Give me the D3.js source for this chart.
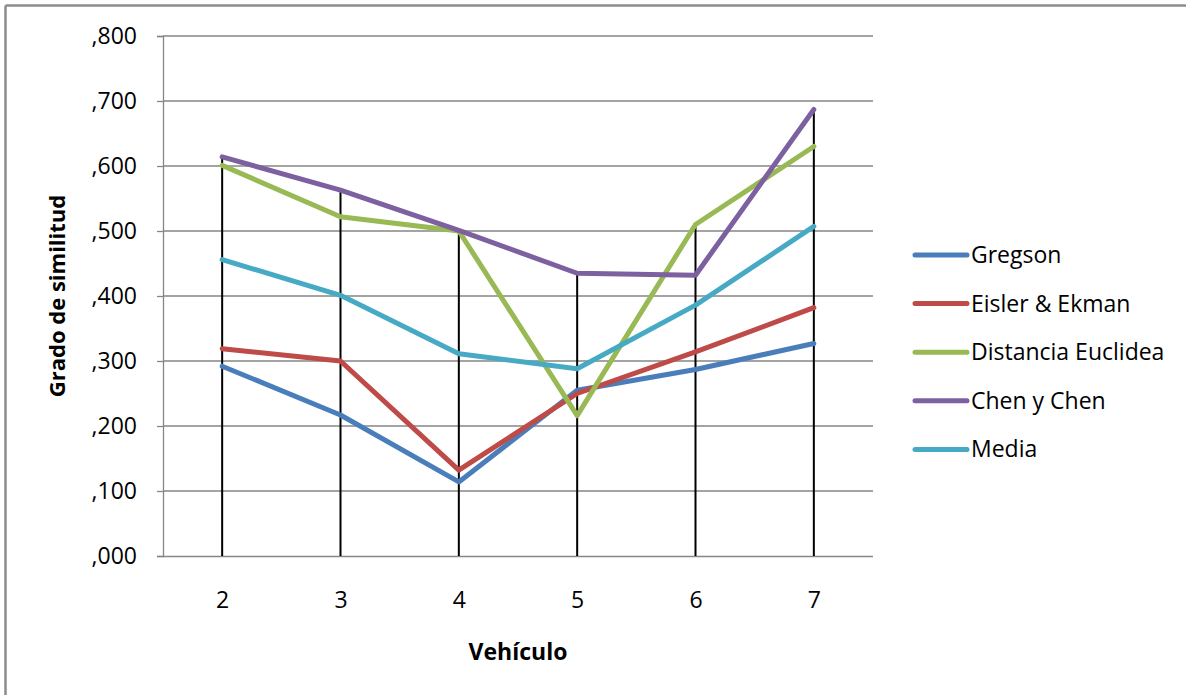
<!DOCTYPE html>
<html>
<head>
<meta charset="utf-8">
<script src="https://cdn.jsdelivr.net/npm/d3@7"></script>
<style>
  html, body { margin: 0; padding: 0; background: #fff; }
  svg { display: block; }
  text { font-family: "Open Sans", sans-serif; fill: #000; }
</style>
</head>
<body>
<svg id="chart" width="1186" height="695"></svg>
<script>
// Vehicle categories on the x axis
const vehicles = ["2", "3", "4", "5", "6", "7"];

// Similarity degree per method
const gregson   = [0.292, 0.217, 0.114, 0.255, 0.287, 0.327];
const eisler    = [0.319, 0.300, 0.132, 0.250, 0.314, 0.382];
const euclidea  = [0.601, 0.522, 0.500, 0.216, 0.510, 0.630];
const chen      = [0.614, 0.563, 0.501, 0.435, 0.432, 0.687];
const media     = [0.456, 0.401, 0.311, 0.288, 0.386, 0.507];

const seriesNames = ["Gregson", "Eisler & Ekman", "Distancia Euclidea", "Chen y Chen", "Media"];
const seriesColors = ["#4a7ebb", "#be4b48", "#98b954", "#7d60a0", "#46aac5"];
const yTicks = [0, 0.1, 0.2, 0.3, 0.4, 0.5, 0.6, 0.7, 0.8];

const series = [gregson, eisler, euclidea, chen, media].map((vals, i) => ({
  name: seriesNames[i], color: seriesColors[i], values: vals
}));

const svg = d3.select("#chart");
const FONT = "'Open Sans', sans-serif";
const FS = "23px";

// Outer chart frame (top and left edges)
svg.append("line").attr("x1", 5.5).attr("x2", 1186).attr("y1", 5.5).attr("y2", 5.5)
  .attr("stroke", "#8c8c8c").attr("stroke-width", 2.5);
svg.append("line").attr("x1", 5.5).attr("x2", 5.5).attr("y1", 5.5).attr("y2", 695)
  .attr("stroke", "#8c8c8c").attr("stroke-width", 2.5);

const plot = { left: 163, right: 873, top: 36, bottom: 556 };

const x = d3.scalePoint().domain(vehicles).range([plot.left, plot.right]).padding(0.5);
const y = d3.scaleLinear().domain([0, 0.8]).range([plot.bottom, plot.top]);

const fmt = v => "," + d3.format(".3f")(v).split(".")[1];

// Horizontal gridlines
svg.append("g").selectAll("line").data(yTicks.slice(1)).join("line")
  .attr("x1", plot.left).attr("x2", plot.right)
  .attr("y1", d => y(d)).attr("y2", d => y(d))
  .attr("stroke", "#868686").attr("stroke-width", 1.3);

// Y axis
const yAxis = svg.append("g").attr("transform", `translate(${plot.left},0)`)
  .call(d3.axisLeft(y).tickValues(yTicks).tickFormat(fmt).tickSize(6).tickPadding(20));
yAxis.select(".domain").attr("stroke", "#868686").attr("stroke-width", 1.3);
yAxis.selectAll(".tick line").attr("stroke", "#868686").attr("stroke-width", 1.3);
yAxis.selectAll(".tick text").style("font-size", FS).style("font-family", FONT).attr("fill", "#000");

// X axis
const xAxis = svg.append("g").attr("transform", `translate(0,${plot.bottom})`)
  .call(d3.axisBottom(x).tickSize(0).tickPadding(36));
xAxis.select(".domain").attr("d", `M${plot.left},0.5H${plot.right}`)
  .attr("stroke", "#868686").attr("stroke-width", 1.3);
xAxis.selectAll(".tick text").style("font-size", FS).style("font-family", FONT).attr("fill", "#000");

// Drop lines from the highest value of each category to the axis
svg.append("g").selectAll("line").data(vehicles).join("line")
  .attr("x1", d => x(d)).attr("x2", d => x(d))
  .attr("y1", (d, i) => y(d3.max(series, s => s.values[i])))
  .attr("y2", plot.bottom)
  .attr("stroke", "#000").attr("stroke-width", 2);

// Series lines
const line = d3.line().x((d, i) => x(vehicles[i])).y(d => y(d));
svg.append("g").selectAll("path").data(series).join("path")
  .attr("d", d => line(d.values))
  .attr("fill", "none")
  .attr("stroke", d => d.color)
  .attr("stroke-width", 5)
  .attr("stroke-linejoin", "round")
  .attr("stroke-linecap", "round");

// Axis titles
svg.append("text").attr("x", 518).attr("y", 660).attr("text-anchor", "middle")
  .style("font-size", FS).style("font-weight", "bold").text("Vehículo");
svg.append("text").attr("transform", "translate(65,296) rotate(-90)").attr("text-anchor", "middle")
  .style("font-size", "22px").style("font-weight", "bold").text("Grado de similitud");

// Legend
const legend = svg.append("g").selectAll("g").data(series).join("g")
  .attr("transform", (d, i) => `translate(915,${255 + i * 48.6})`);
legend.append("line").attr("x1", 0).attr("x2", 52).attr("y1", 0).attr("y2", 0)
  .attr("stroke", d => d.color).attr("stroke-width", 5).attr("stroke-linecap", "round");
legend.append("text").attr("x", 56).attr("y", 0).attr("dy", "0.35em")
  .style("font-size", FS).text(d => d.name);
</script>
</body>
</html>
